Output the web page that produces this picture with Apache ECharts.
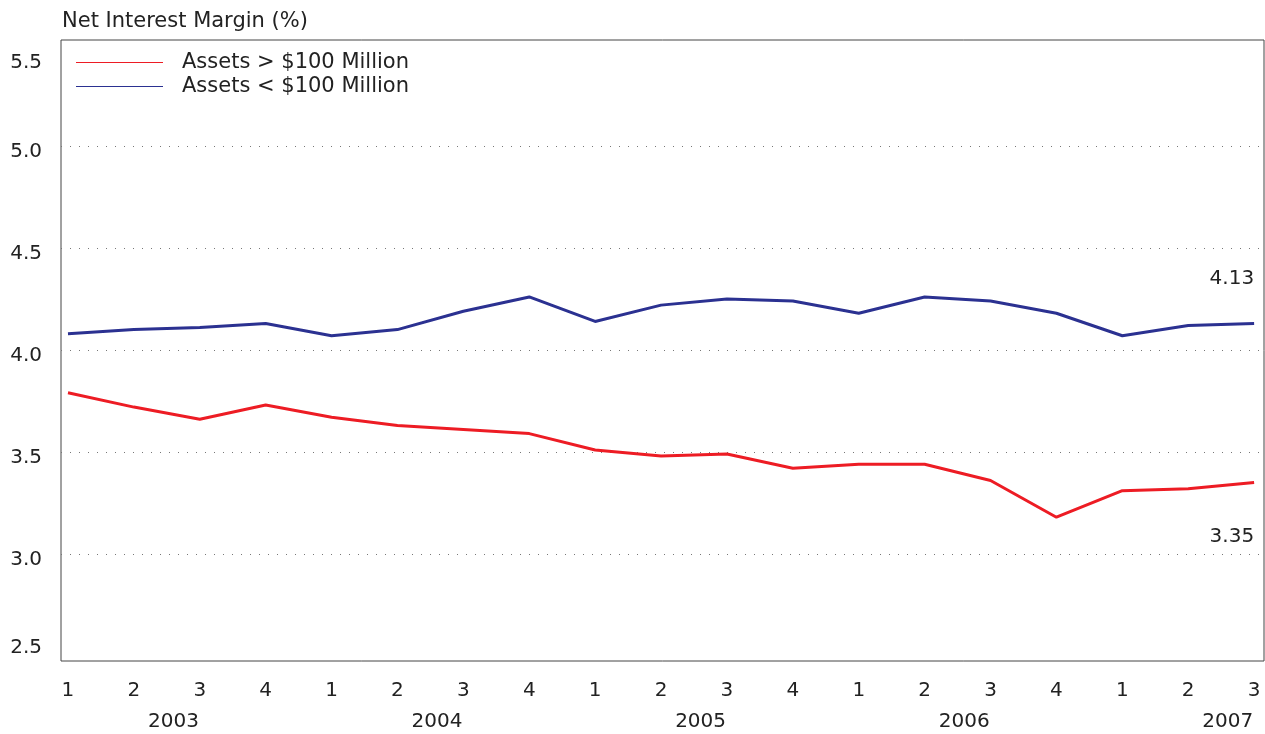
<!DOCTYPE html>
<html>
<head>
<meta charset="utf-8">
<title>Net Interest Margin</title>
<script src="https://cdn.jsdelivr.net/npm/echarts@6/dist/echarts.min.js"></script>
<style>
    html, body { margin: 0; padding: 0; background: #fff; }
    #chart { width: 1265px; height: 734px; }
</style>
</head>
<body>
<div id="chart"></div>
<script>
// du lieu doc tu hinh
var quarters = ['1', '2', '3', '4', '1', '2', '3', '4', '1', '2', '3', '4', '1', '2', '3', '4', '1', '2', '3'];
var years = ['2003', '2004', '2005', '2006', '2007'];
var yearPos = [1.6, 5.6, 9.6, 13.6, 17.6];
var yTicks = [2.5, 3.0, 3.5, 4.0, 4.5, 5.0, 5.5];
var bigBanks = [3.79, 3.72, 3.66, 3.73, 3.67, 3.63, 3.61, 3.59, 3.51, 3.48, 3.49, 3.42, 3.44, 3.44, 3.36, 3.18, 3.31, 3.32, 3.35];
var smallBanks = [4.08, 4.10, 4.11, 4.13, 4.07, 4.10, 4.19, 4.26, 4.14, 4.22, 4.25, 4.24, 4.18, 4.26, 4.24, 4.18, 4.07, 4.12, 4.13];

var FONT = '"DejaVu Sans", sans-serif';
var TXT = '#222';

function toPairs(arr) {
    return arr.map(function (v, i) { return [i, v]; });
}

// nhan o diem cuoi
function endLabel(offY) {
    return {
        show: true,
        distance: 0,
        align: 'right',
        verticalAlign: 'middle',
        offset: [0, offY],
        color: TXT,
        fontSize: 20,
        fontFamily: FONT,
        formatter: function (p) { return p.value[1].toFixed(2); }
    };
}

var chart = echarts.init(document.getElementById('chart'));

chart.setOption({
    animation: false,
    title: {
        text: 'Net Interest Margin (%)',
        left: 57,
        top: 6,
        textStyle: { fontWeight: 'normal', fontSize: 21, color: TXT, fontFamily: FONT }
    },
    legend: {
        orient: 'vertical',
        left: 71,
        top: 47,
        icon: 'rect',
        itemWidth: 87,
        itemHeight: 1,
        itemGap: 3,
        textStyle: { fontSize: 21, color: TXT, fontFamily: FONT, padding: [0, 0, 0, 14] },
        data: ['Assets > $100 Million', 'Assets < $100 Million']
    },
    grid: {
        left: 61,
        right: 1,
        top: 40,
        bottom: 73,
        show: true,
        borderColor: '#444',
        borderWidth: 1
    },
    xAxis: [{
        type: 'value',
        min: -0.106,
        max: 18.15,
        axisLine: { show: false },
        axisTick: { show: false },
        splitLine: { show: false },
        axisLabel: {
            customValues: quarters.map(function (q, i) { return i; }),
            margin: 20,
            fontSize: 20,
            color: TXT,
            fontFamily: FONT,
            formatter: function (v) { return quarters[Math.round(v)]; }
        }
    }, {
        type: 'value',
        position: 'bottom',
        offset: 31,
        min: -0.106,
        max: 18.15,
        axisLine: { show: false },
        axisTick: { show: false },
        splitLine: { show: false },
        axisLabel: {
            customValues: yearPos,
            margin: 20,
            fontSize: 20,
            color: TXT,
            fontFamily: FONT,
            formatter: function (v) { return years[yearPos.indexOf(v)]; }
        }
    }],
    yAxis: {
        type: 'value',
        min: 2.475,
        max: 5.52,
        axisLine: { show: false },
        axisTick: { show: false, customValues: [3.0, 3.5, 4.0, 4.5, 5.0] },
        splitLine: {
            show: true,
            lineStyle: { color: '#777', width: 1, type: [1, 8] }
        },
        axisLabel: {
            customValues: yTicks,
            margin: 19,
            fontFamily: FONT,
            formatter: function (v) {
                var s = v.toFixed(1);
                if (v === 5.5) return '{t|' + s + '}';
                if (v === 2.5) return '{b|' + s + '}';
                return '{m|' + s + '}';
            },
            rich: {
                t: { fontSize: 20, fontFamily: FONT, color: TXT, padding: [38, 0, 0, 0] },
                m: { fontSize: 20, fontFamily: FONT, color: TXT, padding: [12, 0, 0, 0] },
                b: { fontSize: 20, fontFamily: FONT, color: TXT, padding: [0, 0, 16, 0] }
            }
        }
    },
    series: [{
        name: 'Assets > $100 Million',
        type: 'line',
        symbol: 'none',
        lineStyle: { color: '#ed1c24', width: 3 },
        itemStyle: { color: '#ed1c24' },
        endLabel: endLabel(54),
        data: toPairs(bigBanks)
    }, {
        name: 'Assets < $100 Million',
        type: 'line',
        symbol: 'none',
        lineStyle: { color: '#2b3191', width: 3 },
        itemStyle: { color: '#2b3191' },
        endLabel: endLabel(-45),
        data: toPairs(smallBanks)
    }]
});
</script>
</body>
</html>
